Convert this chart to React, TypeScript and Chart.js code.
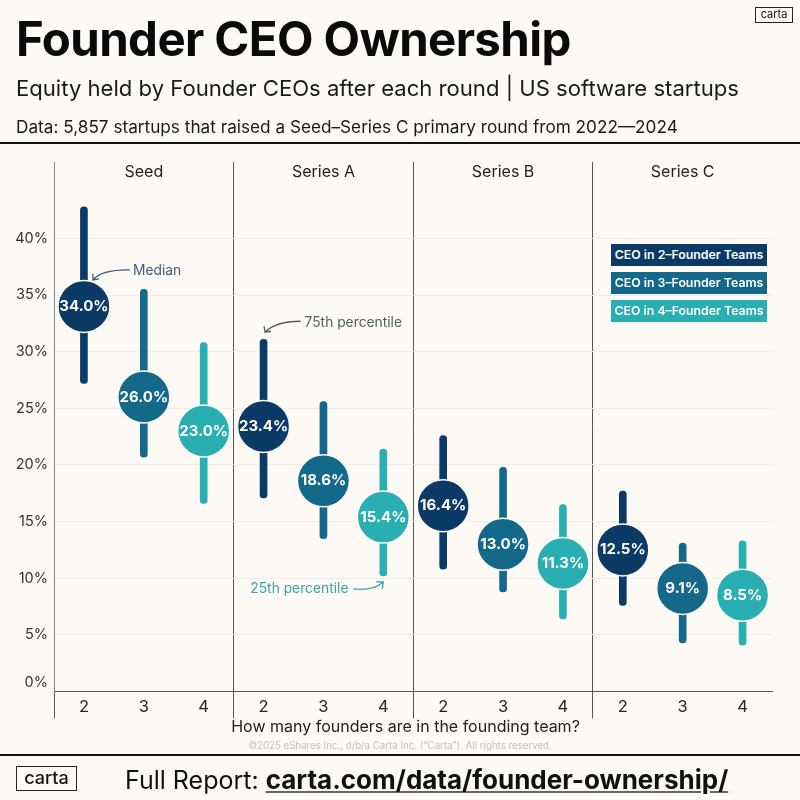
import React, { useEffect, useRef } from "react";
import { Chart, registerables } from "chart.js";

Chart.register(...registerables);

const FONT = "Inter, 'Noto Sans', sans-serif";
const BG = "#fdfaf5";
const NAVY = "#0b3a66";
const BLUE = "#14698b";
const TEAL = "#29aeb2";

const stages = ["Seed", "Series A", "Series B", "Series C"];
const teamSizes = ["2", "3", "4"];
const yTickValues = [0, 5, 10, 15, 20, 25, 30, 35, 40];
const medians = [34.0, 26.0, 23.0, 23.4, 18.6, 15.4, 16.4, 13.0, 11.3, 12.5, 9.1, 8.5];
const p25 = [27.2, 20.7, 16.6, 17.1, 13.5, 10.2, 10.8, 8.8, 6.4, 7.6, 4.3, 4.1];
const p75 = [42.8, 35.5, 30.8, 31.1, 25.6, 21.4, 22.6, 19.8, 16.5, 17.7, 13.1, 13.3];
const legendLabels = ["CEO in 2–Founder Teams", "CEO in 3–Founder Teams", "CEO in 4–Founder Teams"];

const categories = stages.flatMap((s) => teamSizes.map((t) => `${s}|${t}`));
const colorFor = (i: number) => [NAVY, BLUE, TEAL][i % 3];

function arrow(
  ctx: CanvasRenderingContext2D,
  x1: number, y1: number, cx: number, cy: number, x2: number, y2: number,
  head: [number, number, number, number], color: string
) {
  ctx.save();
  ctx.strokeStyle = color;
  ctx.lineWidth = 1.3;
  ctx.beginPath();
  ctx.moveTo(x1, y1);
  ctx.quadraticCurveTo(cx, cy, x2, y2);
  ctx.moveTo(x2 + head[0], y2 + head[1]);
  ctx.lineTo(x2, y2);
  ctx.lineTo(x2 + head[2], y2 + head[3]);
  ctx.stroke();
  ctx.restore();
}

const overlayPlugin = {
  id: "overlay",
  afterDatasetsDraw(chart: any) {
    const { ctx, scales } = chart;
    const x = scales.x;
    const y = scales.y;
    ctx.save();
    ctx.textBaseline = "middle";

    // value labels
    ctx.textAlign = "center";
    ctx.fillStyle = "#ffffff";
    ctx.font = `700 15px ${FONT}`;
    medians.forEach((m, i) => {
      ctx.fillText(`${m.toFixed(1)}%`, x.getPixelForValue(i), y.getPixelForValue(m));
    });

    // panel headers
    ctx.fillStyle = "#222222";
    ctx.font = `400 16px ${FONT}`;
    stages.forEach((s, i) => {
      ctx.fillText(s, x.getPixelForValue(i * 3 + 1), chart.chartArea.top + 10.5);
    });

    // 0% sits just above the axis line
    ctx.textAlign = "right";
    ctx.font = `400 14.5px ${FONT}`;
    ctx.fillStyle = "#333333";
    ctx.fillText("0%", x.left - 6, y.getPixelForValue(0) - 9);

    // axis title
    ctx.textAlign = "center";
    ctx.fillStyle = "#222222";
    ctx.font = `400 16px ${FONT}`;
    ctx.fillText("How many founders are in the founding team?", 405.5, y.getPixelForValue(0) + 36);

    // annotations
    ctx.textAlign = "left";
    ctx.font = `400 13.8px ${FONT}`;
    const mx = x.getPixelForValue(0);
    const my = y.getPixelForValue(medians[0]);
    ctx.fillStyle = "#3c5a7a";
    ctx.fillText("Median", mx + 49, my - 35.5);
    arrow(ctx, mx + 46, my - 36.5, mx + 18, my - 37, mx + 9, my - 26.5, [0, -6, 6, -1], "#3c5a7a");

    const ax = x.getPixelForValue(3);
    const ay = y.getPixelForValue(p75[3]);
    ctx.fillStyle = "#4f5f66";
    ctx.fillText("75th percentile", ax + 41, ay - 16);
    arrow(ctx, ax + 37, ay - 18, ax + 12, ay - 18, ax + 1.5, ay - 7, [-1, -6, 6, -1], "#4f5f66");

    const bx = x.getPixelForValue(5);
    const by = y.getPixelForValue(p25[5]);
    ctx.fillStyle = "#35a5a8";
    ctx.fillText("25th percentile", bx - 133, by + 13);
    arrow(ctx, bx - 30, by + 13, bx - 10, by + 15, bx, by + 6, [-7, 0, -1, 7], "#35a5a8");

    ctx.restore();
  },
};

export default function App() {
  const ref = useRef<HTMLCanvasElement>(null);

  useEffect(() => {
    document.body.style.margin = "0";
    document.body.style.background = BG;
    const chart = new Chart(ref.current!, {
      type: "bar",
      data: {
        labels: categories,
        datasets: [
          {
            type: "line",
            label: "Median",
            data: medians,
            showLine: false,
            pointRadius: 26,
            pointHoverRadius: 26,
            pointBorderWidth: 1.5,
            pointBorderColor: BG,
            pointBackgroundColor: categories.map((_, i) => colorFor(i)),
            order: 1,
          } as any,
          {
            type: "bar",
            label: "25th–75th percentile",
            data: p25.map((v, i) => [v, p75[i]]),
            backgroundColor: categories.map((_, i) => colorFor(i)),
            barThickness: 7,
            borderRadius: 3.5,
            borderSkipped: false,
            order: 2,
          } as any,
        ],
      },
      options: {
        responsive: false,
        animation: false,
        layout: { padding: { top: 162, right: 12, bottom: 68.5, left: 0 } },
        plugins: { legend: { display: false }, tooltip: { enabled: false } },
        scales: {
          x: {
            type: "category",
            offset: true,
            afterFit: (s: any) => { s.height = 40; },
            border: { color: "#5a5650", width: 1 },
            grid: {
              offset: true,
              drawOnChartArea: true,
              drawTicks: true,
              tickLength: 27,
              lineWidth: 1,
              color: (c: any) => (c.index !== undefined && c.index % 3 === 0 ? "#5a5650" : "rgba(0,0,0,0)"),
              tickColor: (c: any) => (c.index !== undefined && c.index % 3 === 0 ? "#5a5650" : "rgba(0,0,0,0)"),
            },
            ticks: {
              maxRotation: 0,
              autoSkip: false,
              padding: -21,
              color: "#222222",
              font: { family: FONT, size: 16.5 },
              callback: (_: any, i: number) => categories[i].split("|")[1],
            },
          },
          y: {
            type: "linear",
            min: 0,
            max: 46.75,
            afterFit: (s: any) => { s.width = 54; },
            afterBuildTicks: (s: any) => { s.ticks = yTickValues.map((value) => ({ value })); },
            border: { color: "#8a8680", width: 1 },
            grid: { color: "#f0ece6", lineWidth: 1, drawTicks: false },
            ticks: {
              padding: 6,
              color: "#333333",
              font: { family: FONT, size: 14.5 },
              callback: (v: any) => (v === 0 ? "" : `${v}%`),
            },
          },
        },
      },
      plugins: [overlayPlugin],
    } as any);
    return () => chart.destroy();
  }, []);

  const abs = (o: React.CSSProperties): React.CSSProperties => ({ position: "absolute", whiteSpace: "nowrap", fontFamily: FONT, ...o });

  return (
    <div style={{ position: "relative", width: 800, height: 800, background: BG, overflow: "hidden", color: "#111" }}>
      <canvas ref={ref} width={800} height={800} style={{ position: "absolute", left: 0, top: 0, display: "block" }} />
      <div style={abs({ left: 16, top: 9, fontSize: 47.4, lineHeight: "60px", fontWeight: 700, letterSpacing: -0.6, color: "#0a0a0a" })}>Founder CEO Ownership</div>
      <div style={abs({ left: 16, top: 73, fontSize: 22.1, lineHeight: "30px", color: "#1a1a1a" })}>Equity held by Founder CEOs after each round | US software startups</div>
      <div style={abs({ left: 16, top: 115, fontSize: 17.2, lineHeight: "24px", color: "#1a1a1a" })}>Data: 5,857 startups that raised a Seed–Series C primary round from 2022—2024</div>
      <div style={abs({ left: 0, top: 142, width: 800, height: 2, background: "#111" })} />
      <div style={abs({ left: 755, top: 7, width: 38, height: 16, border: "1.5px solid #222", boxSizing: "border-box", fontSize: 11, lineHeight: "13px", textAlign: "center", color: "#111" })}>carta</div>
      {legendLabels.map((t, i) => (
        <div key={t} style={abs({ left: 611, top: 244 + i * 28, width: 156, height: 22, background: colorFor(i), color: "#fff", fontSize: 12.3, lineHeight: "22px", fontWeight: 600, textAlign: "center" })}>{t}</div>
      ))}
      <div style={abs({ left: 0, top: 739, width: 800, textAlign: "center", fontSize: 9.7, lineHeight: "14px", color: "#c4c2bc" })}>©2025 eShares Inc., d/b/a Carta Inc. (“Carta”). All rights reserved.</div>
      <div style={abs({ left: 0, top: 754, width: 800, height: 2, background: "#111" })} />
      <div style={abs({ left: 16, top: 766, width: 61, height: 25, border: "1.5px solid #222", boxSizing: "border-box", fontSize: 18, fontWeight: 500, lineHeight: "21px", textAlign: "center", color: "#111" })}>carta</div>
      <div style={abs({ left: 125, top: 762, fontSize: 25, lineHeight: "36px", color: "#111" })}>
        Full Report: <span style={{ fontSize: 26, fontWeight: 700, textDecoration: "underline", textDecorationColor: "#666" }}>carta.com/data/founder-ownership/</span>
      </div>
    </div>
  );
}
